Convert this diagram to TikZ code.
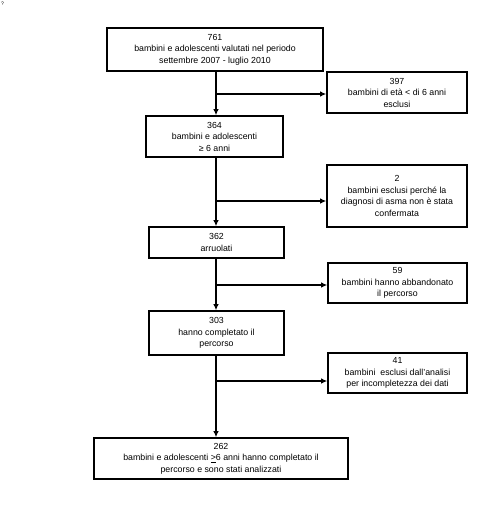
\documentclass[tikz,border=0pt]{standalone}
\usepackage{fontspec}
\setmainfont{Liberation Sans}
\usetikzlibrary{arrows.meta}
\begin{document}
\begin{tikzpicture}[x=1pt,y=-1pt,
  box/.style={draw=black,line width=1.6pt,inner sep=0pt,align=center,font=\fontsize{8.8}{11.5}\selectfont},
  conn/.style={line width=1.6pt,-{Latex[length=6pt,width=5.5pt]}}]
\useasboundingbox[fill=white] (0,0) rectangle (495,512);
\node[font=\fontsize{5}{6}\selectfont,anchor=north west,inner sep=0pt] (q) at (1,2) {?};
% boxes: centers from pixel extents
\node[box,minimum width=216pt,minimum height=43pt] (b1) at (215,49.5) {761\\bambini e adolescenti valutati nel periodo\\settembre 2007 - luglio 2010};
\node[box,minimum width=140pt,minimum height=41pt] (b397) at (397,92.5) {397\\bambini di età < di 6 anni\\esclusi};
\node[box,minimum width=137pt,minimum height=41pt] (b364) at (214.5,136.5) {364\\bambini e adolescenti\\≥ 6 anni};
\node[box,minimum width=140pt,minimum height=62pt] (b2) at (397,196) {2\\bambini esclusi perché la\\diagnosi di asma non è stata\\confermata};
\node[box,minimum width=135pt,minimum height=31pt] (b362) at (216.5,242.5) {362\\arruolati};
\node[box,minimum width=139pt,minimum height=40pt] (b59) at (397.5,283) {59\\bambini hanno abbandonato\\il percorso};
\node[box,minimum width=135pt,minimum height=44pt] (b303) at (216.5,333) {303\\hanno completato il\\percorso};
\node[box,minimum width=139pt,minimum height=40pt] (b41) at (397.5,373) {41\\bambini\ \ esclusi dall’analisi\\per incompletezza dei dati};
\node[box,minimum width=254pt,minimum height=41pt] (b262) at (221,458.5) {262\\bambini e adolescenti \underline{>}6 anni hanno completato il\\percorso e sono stati analizzati};
% junctions
\coordinate (j1) at (216,94);
\coordinate (j2) at (216,201);
\coordinate (j3) at (216,285);
\coordinate (j4) at (216,381);
% main flow
\draw[conn] (b1.south -| j1) -- (b364.north -| j1);
\draw[conn] (b364.south -| j1) -- (b362.north -| j1);
\draw[conn] (b362.south -| j1) -- (b303.north -| j1);
\draw[conn] (b303.south -| j1) -- (b262.north -| j1);
% branches
\draw[conn] (j1) -- (j1 -| b397.west);
\draw[conn] (j2) -- (j2 -| b2.west);
\draw[conn] (j3) -- (j3 -| b59.west);
\draw[conn] (j4) -- (j4 -| b41.west);
\end{tikzpicture}
\end{document}
